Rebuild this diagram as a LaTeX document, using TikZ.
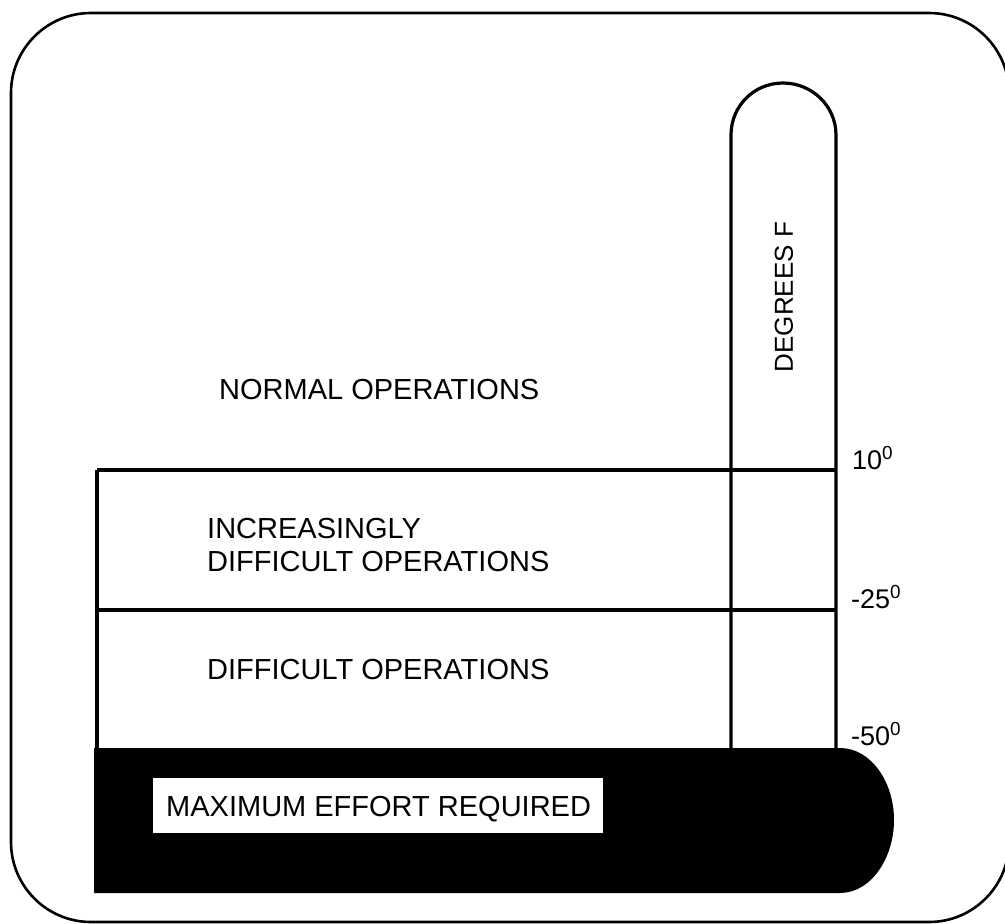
\documentclass[tikz,border=0pt]{standalone}
\usepackage{fontspec}
\setmainfont{Liberation Sans}
\begin{document}
\begin{tikzpicture}[x=1pt,y=-1pt,
  lbl/.style={anchor=base west,inner sep=0pt,font=\fontsize{29}{34}\selectfont},
  deg/.style={anchor=base west,inner sep=0pt,font=\fontsize{27}{32}\selectfont},
  heavy/.style={line width=3.2pt},
  frame/.style={line width=2.6pt}]
\useasboundingbox (0,0) rectangle (1005,924);
% outer frame
\draw[frame,rounded corners=80] (11,13) rectangle (1009,922);
% thermometer tube
\draw[heavy] (731,748) -- (731,135) .. controls (731,106) and (754,83) .. (783,83)
  .. controls (812,83) and (836,106) .. (836,135) -- (836,748);
% zone lines
\draw[heavy] (97,470) -- (836,470);
\draw[heavy] (97,610) -- (836,610);
\draw[heavy] (97,470) -- (97,748);
% black bulb
\fill (94,748) -- (840,748) .. controls (871,748) and (894,782) .. (894,820)
  .. controls (894,858) and (871,893) .. (840,893) -- (94,893) -- cycle;
\fill[white] (153,778) rectangle (603,833);
% texts
\node[lbl] (normal) at (219,399) {NORMAL OPERATIONS};
\node[lbl] (incr1) at (207,538) {INCREASINGLY};
\node[lbl] (incr2) at (207,571) {DIFFICULT OPERATIONS};
\node[lbl] (diff) at (207,679) {DIFFICULT OPERATIONS};
\node[lbl] (maxeff) at (166,816) {MAXIMUM EFFORT REQUIRED};
\node[rotate=90,inner sep=0pt,font=\fontsize{26}{30}\selectfont] (degf) at (784,297) {DEGREES F};
\node[deg] (t10) at (852,469) {10\textsuperscript{0}};
\node[deg] (t25) at (851,608) {-25\textsuperscript{0}};
\node[deg] (t50) at (851,745) {-50\textsuperscript{0}};
\end{tikzpicture}
\end{document}
